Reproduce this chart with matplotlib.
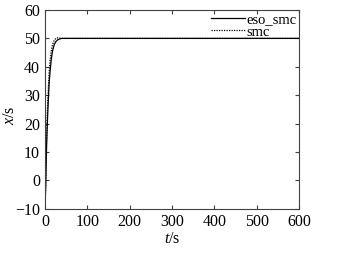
import matplotlib
matplotlib.use('Agg')
import matplotlib.pyplot as plt

plt.rcParams['font.family'] = 'Liberation Serif'
plt.rcParams['mathtext.fontset'] = 'custom'
plt.rcParams['mathtext.it'] = 'Liberation Serif:italic'
plt.rcParams['mathtext.rm'] = 'Liberation Serif'

# eso_smc response
t_eso = [0, 1, 2, 3, 4, 6, 8, 10, 12, 15, 18, 22, 26, 30, 35, 40, 50, 100, 200, 300, 400, 500, 600]
x_eso = [-8, -6, -1, 6, 12, 21, 28, 34, 38, 42.5, 45.5, 47.8, 48.9, 49.5, 49.8, 50, 50, 50, 50, 50, 50, 50, 50]

# smc response
t_smc = [0, 1, 2, 3, 4, 6, 8, 10, 12, 15, 18, 22, 26, 30, 35, 40, 50, 100, 200, 300, 400, 500, 600]
x_smc = [-9, -7, -2, 7, 15, 25, 32, 38, 42, 45.5, 47.8, 49.3, 50, 50.2, 50.1, 50, 50, 50, 50, 50, 50, 50, 50]

fig = plt.figure(figsize=(3.62, 2.56), dpi=100)
ax = fig.add_axes([0.124, 0.184, 0.702, 0.777])

ax.plot(t_eso, x_eso, color='black', lw=0.9, label='eso_smc')
ax.plot(t_smc, x_smc, color='black', lw=0.9, ls=(0, (1, 1)), label='smc')

ax.set_xlim(0, 600)
ax.set_ylim(-10, 60)
ax.set_xticks(range(0, 601, 100))
ax.set_yticks(range(-10, 61, 10))
for s in ax.spines.values():
    s.set_color('#404040')
ax.tick_params(direction='in', top=True, right=True, labelsize=11.5, length=3,
               color='#404040')
ax.set_xlabel('$t$/s', fontsize=11.5, labelpad=1)
ax.set_ylabel('$x$/s', fontsize=11.5)
ax.yaxis.set_label_coords(-0.105, 0.47)

ax.legend(loc='upper right', frameon=False, fontsize=10.5, handlelength=2.3,
          borderaxespad=0.0, borderpad=0.2, labelspacing=-0.05, handletextpad=0.1)

fig.savefig('out.png', dpi=100)
